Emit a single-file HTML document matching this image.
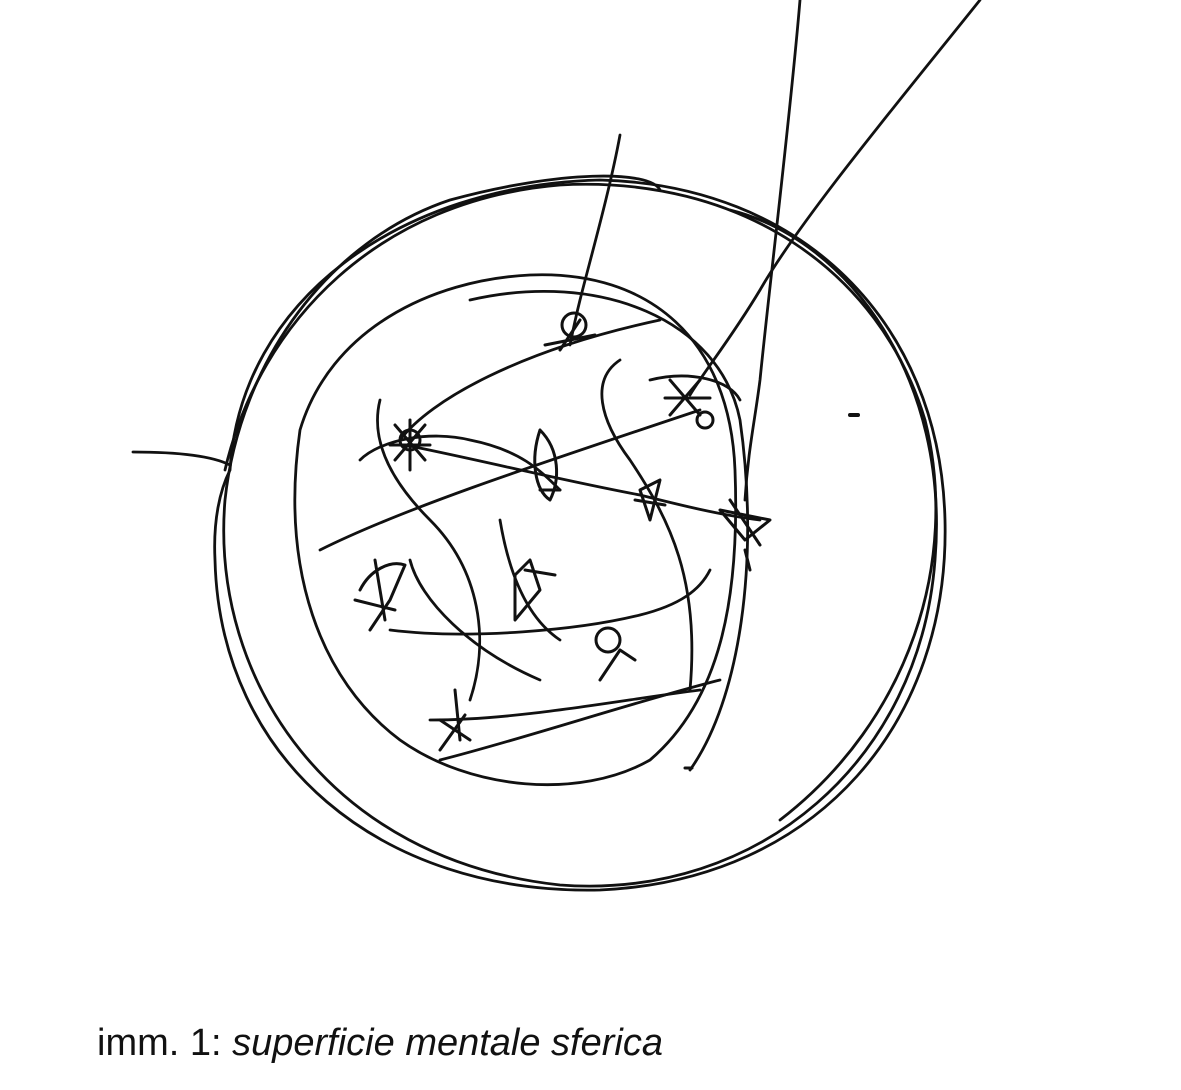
<!DOCTYPE html>
<html><head><meta charset="utf-8"><style>
html,body{margin:0;padding:0;background:#fff;width:1181px;height:1090px;overflow:hidden}
svg{position:absolute;left:0;top:0}
.cap{position:absolute;left:97px;top:1022px;font-family:"Liberation Sans",sans-serif;font-size:38px;color:#111;white-space:nowrap}
</style></head><body>
<svg width="1181" height="1090" viewBox="0 0 1181 1090" fill="none" stroke="#111" stroke-width="2.8" stroke-linecap="round" stroke-linejoin="round">
<path d="M230,470 C240,300 400,185 600,180 C800,185 940,320 945,520 C950,720 820,880 600,890 C380,895 220,760 215,560 C213,520 220,490 230,470"/>
<path d="M660,190 C650,170 560,170 450,200 C330,240 240,360 225,500 C210,680 330,860 560,885 C760,900 920,760 935,560 C950,380 850,240 730,210"/>
<path d="M225,470 C260,320 380,200 560,185 C740,175 880,270 925,420 C960,560 910,720 780,820"/>
<path d="M300,430 C330,330 430,280 530,275 C650,270 730,340 735,470 C740,600 720,700 650,760 C580,800 470,790 400,740 C320,680 280,570 300,430"/>
<path d="M470,300 C600,270 720,320 740,420 C760,560 740,700 690,770"/>
<path d="M800,0 C790,120 770,280 760,380 C755,420 748,450 745,500"/>
<path d="M980,0 C900,100 800,220 760,290 C730,340 705,370 690,395"/>
<path d="M620,135 C610,190 590,260 580,300 C575,320 572,335 570,345"/>
<path d="M133,452 C170,452 210,455 230,465"/>
<path d="M405,445 C480,460 560,480 640,495 C680,505 720,515 760,520"/>
<path d="M400,440 C430,400 520,350 660,320"/>
<path d="M320,550 C400,510 520,470 700,410"/>
<path d="M390,630 C470,640 580,630 640,615 C680,605 700,590 710,570"/>
<path d="M380,400 C370,440 390,480 430,520 C480,570 490,640 470,700"/>
<path d="M620,360 C590,380 600,420 630,460 C670,520 700,580 690,690"/>
<path d="M440,760 C520,740 640,700 720,680"/>
<path d="M430,720 C520,720 620,700 700,690"/>
<path d="M360,460 C380,440 430,430 470,440 C520,450 540,470 560,490"/>
<path d="M650,380 C690,370 730,380 740,400"/>
<path d="M410,560 C420,600 470,650 540,680"/>
<path d="M500,520 C510,580 530,620 560,640"/>
<g stroke-width="3">
<circle cx="574" cy="325" r="12"/><path d="M545,345 L595,335 M560,350 L580,320"/>
<path d="M395,425 L425,460 M425,425 L395,460 M390,445 L430,445 M410,420 L410,470"/><circle cx="410" cy="440" r="10"/>
<path d="M670,380 L700,415 M700,380 L670,415 M665,398 L710,398"/><circle cx="705" cy="420" r="8"/>
<path d="M540,430 C530,460 535,490 550,500 C560,480 560,450 540,430 M540,490 L560,490"/>
<path d="M640,490 L660,480 L650,520 Z M635,500 L665,505"/>
<path d="M720,510 L770,520 L745,540 Z M730,500 L760,545 M745,550 L750,570"/>
<path d="M360,590 C370,570 390,560 405,565 L390,600 L370,630 M355,600 L395,610 M375,560 L385,620"/>
<path d="M515,575 L530,560 L540,590 L515,620 Z M525,570 L555,575"/>
<circle cx="608" cy="640" r="12"/><path d="M600,680 L620,650 L635,660"/>
<path d="M440,720 L470,740 M465,715 L440,750 M455,690 L460,740"/>
</g>
<path d="M850,415 L858,415" stroke-width="4"/>
<path d="M685,768 L692,768" stroke-width="3"/>
</svg>
<div class="cap">imm. 1: <i>superficie mentale sferica</i></div>
</body></html>
